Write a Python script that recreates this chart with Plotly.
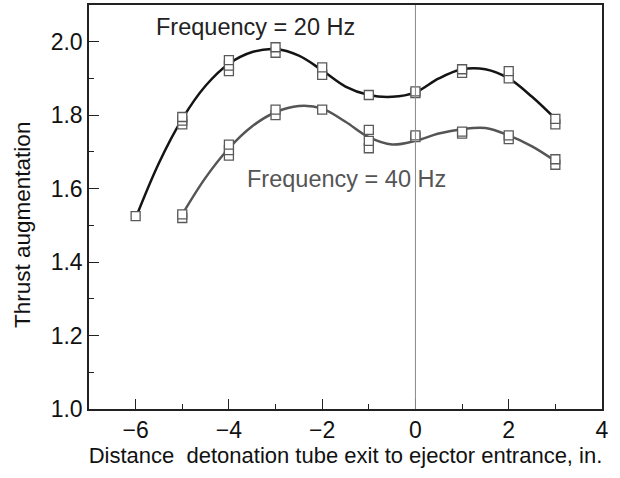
import plotly.graph_objects as go

# Measured points (repeated runs at each position)
x20 = [-6, -5, -5, -5, -4, -4, -4, -3, -3, -2, -2, -1, 0, 0, 1, 1, 2, 2, 3, 3]
y20 = [1.525, 1.775, 1.785, 1.795, 1.92, 1.935, 1.95, 1.97, 1.985, 1.91, 1.93,
       1.855, 1.86, 1.865, 1.915, 1.925, 1.90, 1.92, 1.775, 1.79]

x40 = [-5, -5, -4, -4, -4, -3, -3, -2, -1, -1, -1, 0, 0, 1, 1, 2, 2, 3, 3]
y40 = [1.52, 1.53, 1.69, 1.705, 1.72, 1.80, 1.815, 1.815, 1.71, 1.73, 1.76,
       1.74, 1.745, 1.75, 1.755, 1.735, 1.745, 1.665, 1.68]

# Fitted curves
cx20 = [-6, -5.5, -5, -4.5, -4, -3.5, -3, -2.5, -2, -1.5, -1, -0.5, 0, 0.5, 1, 1.5, 2, 2.5, 3]
cy20 = [1.52, 1.67, 1.79, 1.88, 1.94, 1.972, 1.98, 1.962, 1.922, 1.878, 1.855, 1.85, 1.862,
        1.90, 1.925, 1.925, 1.90, 1.85, 1.79]

cx40 = [-5, -4.5, -4, -3.5, -3, -2.5, -2, -1.5, -1, -0.5, 0, 0.5, 1, 1.5, 2, 2.5, 3]
cy40 = [1.53, 1.63, 1.71, 1.77, 1.808, 1.825, 1.818, 1.782, 1.74, 1.72, 1.73, 1.75,
        1.762, 1.765, 1.745, 1.715, 1.675]

label20 = "Frequency = 20 Hz"
label40 = "Frequency = 40 Hz"
ytitle = "Thrust augmentation"
xtitle = "Distance  detonation tube exit to ejector entrance, in."

xticks = [-6, -4, -2, 0, 2, 4]
xticktext = ["\u22126", "\u22124", "\u22122", "0", "2", "4"]
yticks = [1.0, 1.2, 1.4, 1.6, 1.8, 2.0]

FONT = "Arial, Liberation Sans, sans-serif"
C20 = "#141414"
C40 = "#555555"
MK = "#5a5a5a"

fig = go.Figure()
fig.add_vline(x=0, line=dict(color="#8a8a8a", width=1))

fig.add_trace(go.Scatter(x=cx20, y=cy20, mode="lines", line=dict(color=C20, width=2.5, shape="spline", smoothing=1.0), showlegend=False))
fig.add_trace(go.Scatter(x=cx40, y=cy40, mode="lines", line=dict(color=C40, width=2.5, shape="spline", smoothing=1.0), showlegend=False))
fig.add_trace(go.Scatter(x=x20, y=y20, mode="markers",
                         marker=dict(symbol="square", size=9, color="white", line=dict(color=MK, width=1.3)),
                         showlegend=False))
fig.add_trace(go.Scatter(x=x40, y=y40, mode="markers",
                         marker=dict(symbol="square", size=9, color="white", line=dict(color=MK, width=1.3)),
                         showlegend=False))

fig.add_annotation(x=-5.6, y=2.04, text=label20, showarrow=False, xanchor="left", yanchor="middle",
                   font=dict(family=FONT, size=23.5, color="#222222"))
fig.add_annotation(x=-3.66, y=1.625, text=label40, showarrow=False, xanchor="left", yanchor="middle",
                   font=dict(family=FONT, size=23.5, color="#555555"))
fig.add_annotation(xref="paper", yref="paper", x=-0.131, y=0.455, text=ytitle, textangle=-90,
                   showarrow=False, xanchor="center", yanchor="middle",
                   font=dict(family=FONT, size=22.5, color="#111111"))

fig.update_layout(
    width=620, height=478,
    margin=dict(l=89, r=18, t=5, b=69),
    paper_bgcolor="white", plot_bgcolor="white",
    font=dict(family=FONT, size=23, color="#111111"),
)
fig.update_xaxes(range=[-7, 4], tickvals=xticks, ticktext=xticktext, automargin=False,
                 ticks="inside", ticklen=10, tickwidth=1, tickcolor="#222",
                 tickfont=dict(size=23),
                 minor=dict(dtick=1, tick0=-7, ticks="inside", ticklen=5, tickcolor="#222"),
                 showline=True, linecolor="#222", linewidth=1.5, mirror=True, showgrid=False,
                 zeroline=False,
                 title=dict(text=xtitle, standoff=2, font=dict(size=22)))
fig.update_yaxes(range=[1.0, 2.1], tickvals=yticks, tickformat=".1f", automargin=False,
                 ticks="inside", ticklen=10, tickwidth=1, tickcolor="#222",
                 tickfont=dict(size=23),
                 minor=dict(dtick=0.1, tick0=1.0, ticks="inside", ticklen=5, tickcolor="#222"),
                 showline=True, linecolor="#222", linewidth=1.5, mirror=True, showgrid=False,
                 zeroline=False)

fig.write_html("out.html", config={"displayModeBar": False},
               post_script="document.body.style.margin='0';")
